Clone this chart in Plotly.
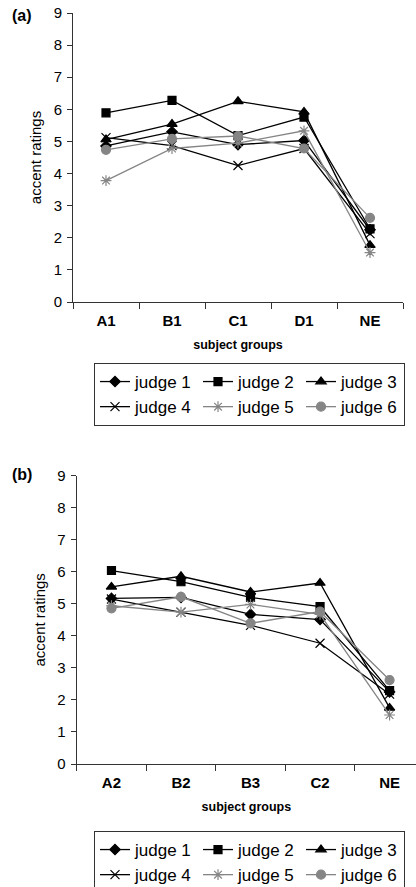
import plotly.graph_objects as go

# ---------------- data ----------------
groups_a = ["A1", "B1", "C1", "D1", "NE"]
groups_b = ["A2", "B2", "B3", "C2", "NE"]
judges = ["judge 1", "judge 2", "judge 3", "judge 4", "judge 5", "judge 6"]

ratings_a = {
    "judge 1": [4.86, 5.30, 4.90, 5.03, 2.25],
    "judge 2": [5.89, 6.28, 5.18, 5.76, 2.28],
    "judge 3": [5.06, 5.54, 6.25, 5.92, 1.77],
    "judge 4": [5.12, 4.87, 4.25, 4.78, 2.13],
    "judge 5": [3.78, 4.78, 4.95, 5.33, 1.54],
    "judge 6": [4.74, 5.08, 5.17, 4.78, 2.62],
}
ratings_b = {
    "judge 1": [5.17, 5.20, 4.67, 4.51, 2.25],
    "judge 2": [6.04, 5.69, 5.20, 4.91, 2.29],
    "judge 3": [5.53, 5.86, 5.37, 5.65, 1.75],
    "judge 4": [5.15, 4.74, 4.33, 3.77, 2.18],
    "judge 5": [4.94, 4.74, 4.98, 4.67, 1.53],
    "judge 6": [4.86, 5.22, 4.39, 4.76, 2.62],
}

y_ticks = list(range(0, 10))

# ---------------- styles ----------------
GREY = "#858585"
styles = {
    "judge 1": dict(color="black", symbol="diamond", size=8),
    "judge 2": dict(color="black", symbol="square", size=8),
    "judge 3": dict(color="black", symbol="triangle-up", size=9),
    "judge 4": dict(color="black", symbol="x-thin-open", size=9),
    "judge 5": dict(color=GREY, symbol="asterisk-open", size=9),
    "judge 6": dict(color=GREY, symbol="circle", size=9),
}

W, H = 416, 887
ML = 40  # left margin (px)
PW = W - ML


def px_x(p):
    return (p - ML) / PW


def px_y(p):
    return 1 - p / H


fig = go.Figure()

for groups, data, xa, ya, leg in [
    (groups_a, ratings_a, "x", "y", "legend"),
    (groups_b, ratings_b, "x2", "y2", "legend2"),
]:
    for j in judges:
        st = styles[j]
        fig.add_trace(go.Scatter(
            x=groups, y=data[j], name=j, mode="lines+markers",
            xaxis=xa, yaxis=ya, legend=leg,
            line=dict(color=st["color"], width=1.3),
            marker=dict(symbol=st["symbol"], size=st["size"], color=st["color"],
                        line=dict(color=st["color"], width=1.2)),
            showlegend=True,
        ))

FONT = "Liberation Sans, Arial, sans-serif"

xcommon = dict(type="category", tickson="boundaries", ticks="outside", ticklen=6,
               tickcolor="#333", showline=True, linecolor="#333", linewidth=1,
               showgrid=False, zeroline=False, ticklabelstandoff=5,
               tickfont=dict(family=FONT, size=15, color="black", weight="bold"),
               title=dict(text="subject groups", standoff=12,
                          font=dict(family=FONT, size=12.5, color="black", weight="bold")))
ycommon = dict(range=[0, 9], tickvals=y_ticks, ticks="outside", ticklen=5,
               tickcolor="#333", showline=True, linecolor="#333", linewidth=1,
               showgrid=False, zeroline=False, ticklabelstandoff=2,
               tickfont=dict(family=FONT, size=15, color="black"),
               title=dict(text="accent ratings", standoff=8,
                          font=dict(family=FONT, size=15, color="black")))

legcommon = dict(orientation="h", xanchor="left", yanchor="top",
                 bordercolor="#333", borderwidth=1, bgcolor="white",
                 entrywidth=58, font=dict(family=FONT, size=17, color="black"),
                 traceorder="normal")

fig.update_layout(
    width=W, height=H,
    template="none",
    paper_bgcolor="white", plot_bgcolor="white",
    margin=dict(l=ML, r=0, t=0, b=0, autoexpand=False),
    font=dict(family=FONT, color="black"),
    xaxis=dict(domain=[px_x(73), px_x(403)], anchor="y", range=[-0.5, 4.5], **xcommon),
    yaxis=dict(domain=[px_y(302), px_y(13)], anchor="x", **ycommon),
    xaxis2=dict(domain=[px_x(76.7), 1.0], anchor="y2", range=[-0.5, 4.38], **xcommon),
    yaxis2=dict(domain=[px_y(764), px_y(475.7)], anchor="x2", **ycommon),
    legend=dict(x=px_x(94), y=px_y(363), **legcommon),
    legend2=dict(x=px_x(94), y=px_y(831), **legcommon),
    annotations=[
        dict(text="(a)", x=px_x(22), y=px_y(16), xref="paper", yref="paper",
             xanchor="center", yanchor="middle",
             showarrow=False, font=dict(family=FONT, size=16, weight="bold")),
        dict(text="(b)", x=px_x(22), y=px_y(475), xref="paper", yref="paper",
             xanchor="center", yanchor="middle",
             showarrow=False, font=dict(family=FONT, size=16, weight="bold")),
    ],
)

fig.write_html("out.html")
